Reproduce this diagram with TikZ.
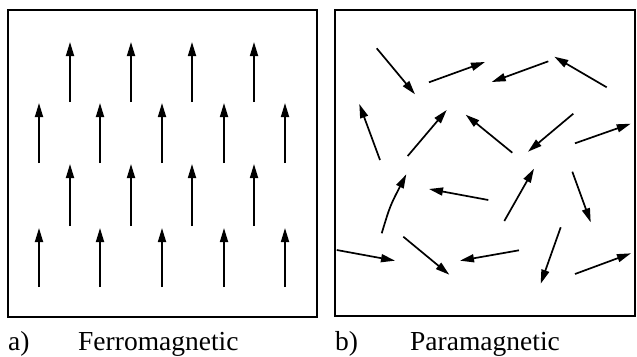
\documentclass[tikz,border=0pt]{standalone}
\usepackage{fontspec}
\setmainfont{Liberation Serif}
\usetikzlibrary{arrows.meta}
\begin{document}
\begin{tikzpicture}[x=1pt,y=-1pt,
  spin/.style={line width=1.7pt,-{Triangle[length=14pt,width=8pt]}},
  panel/.style={line width=1.7pt},
  lbl/.style={anchor=base west,inner sep=0pt,font=\fontsize{27.5}{31}\selectfont}]
\useasboundingbox (0,0) rectangle (637,356);
% left panel
\draw[panel] (8,10) rectangle (317,317);
\foreach \x in {70,131,192,254} {
  \draw[spin] (\x,102) -- (\x,42);
  \draw[spin] (\x,226) -- (\x,164);
}
\foreach \x in {39,100,162,224,285} {
  \draw[spin] (\x,163) -- (\x,103);
  \draw[spin] (\x,287) -- (\x,228);
}
% right panel
\draw[panel] (335,10) rectangle (635,316);
\draw[spin] (376.7,48.3) -- (415,94.3);
\draw[spin] (429,82.3) -- (485,62);
\draw[spin] (548.3,61.3) -- (491.7,82);
\draw[spin] (606.7,87.3) -- (554.3,56.7);
\draw[spin] (380,160) -- (359.3,104);
\draw[spin] (407.7,156) -- (446.7,110);
\draw[spin] (512.3,152.7) -- (465.7,114.7);
\draw[spin] (573.3,113.7) -- (528,151.7);
\draw[spin] (575,143.3) -- (630.7,123.7);
\draw[spin] (381.7,233.3) .. controls (390,206) .. (406.3,174.3);
\draw[spin] (488.3,200) -- (429,189);
\draw[spin] (504.3,221) -- (534,168.7);
\draw[spin] (572.3,171.7) -- (590.7,222.3);
\draw[spin] (336.7,250) -- (395,260.7);
\draw[spin] (403.3,236.7) -- (449.3,274.7);
\draw[spin] (519,250.3) -- (460,260.7);
\draw[spin] (560.7,227.3) -- (540.7,283.7);
\draw[spin] (575,274) -- (631,253.3);
% labels
\node[lbl] (la) at (8,350) {a)};
\node[lbl] (lfe) at (78,350) {Ferromagnetic};
\node[lbl] (lb) at (335,350) {b)};
\node[lbl] (lpa) at (410,350) {Paramagnetic};
\end{tikzpicture}
\end{document}
